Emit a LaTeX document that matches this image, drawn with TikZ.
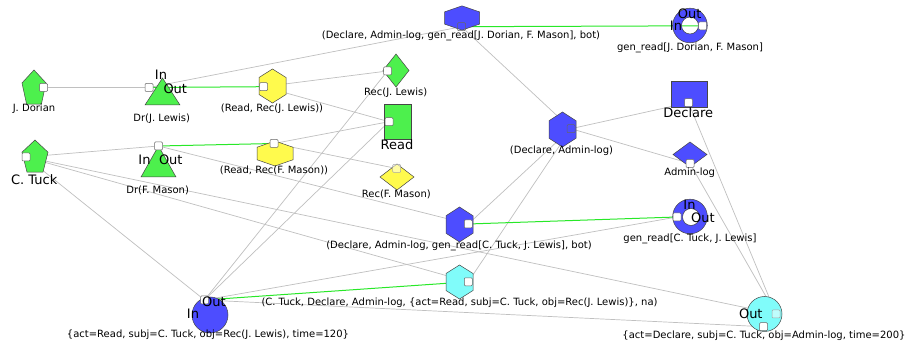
\documentclass[tikz,border=0pt]{standalone}
\usepackage{fontspec}
\setmainfont{DejaVu Sans}
\definecolor{gfill}{RGB}{77,240,77}
\definecolor{yfill}{RGB}{255,250,77}
\definecolor{bfill}{RGB}{77,77,255}
\definecolor{cfill}{RGB}{128,252,250}
\definecolor{egreen}{RGB}{40,232,40}
\definecolor{egray}{RGB}{192,192,192}
\definecolor{bord}{RGB}{70,70,70}
\pgfdeclarelayer{bglayer}
\pgfdeclarelayer{edgelayer}
\pgfsetlayers{bglayer,edgelayer,main}
\tikzset{
  shp/.style={draw=bord, line width=0.5pt},
  port/.style={draw=black!60, fill=white, minimum size=8pt, inner sep=0pt, rounded corners=1pt, line width=0.5pt},
  hport/.style={draw=black!60, fill=none, minimum size=8pt, inner sep=0pt, rounded corners=1pt, line width=0.5pt},
  fport/.style={draw=black!35, fill=white, fill opacity=0.5, minimum size=8pt, inner sep=0pt, rounded corners=1pt, line width=0.5pt},
  gedge/.style={draw=egray, line width=0.7pt},
  grn/.style={draw=egreen, line width=1pt},
  lab/.style={font=\fontsize{10}{12}\selectfont, inner sep=0pt},
  big/.style={font=\fontsize{13}{15}\selectfont, inner sep=0pt},
}
\begin{document}
\begin{tikzpicture}[x=1pt,y=-1pt]
\useasboundingbox (0,0) rectangle (914,347);
\begin{pgfonlayer}{bglayer}
\fill[white] (0,0) rectangle (914,347);
\end{pgfonlayer}

% ---------- shapes ----------
% pentagons
\filldraw[shp, fill=gfill, shift={(34,88.8)}, xscale=12.62, yscale=18.8]
  (0,-1) -- (0.951,-0.309) -- (0.588,0.809) -- (-0.588,0.809) -- (-0.951,-0.309) -- cycle;
\filldraw[shp, fill=gfill, shift={(35,157.7)}, xscale=13.67, yscale=17.69]
  (0,-1) -- (0.951,-0.309) -- (0.588,0.809) -- (-0.588,0.809) -- (-0.951,-0.309) -- cycle;
% triangles
\filldraw[shp, fill=gfill] (145,105) -- (180,105) -- (162.5,78) -- cycle;
\filldraw[shp, fill=gfill] (141,177) -- (176,177) -- (158.5,146) -- cycle;
% hexagons
\filldraw[shp, fill=yfill, shift={(272.5,86)}, xscale=13.5, yscale=17]
  (0,-1) -- (1,-0.5) -- (1,0.5) -- (0,1) -- (-1,0.5) -- (-1,-0.5) -- cycle;
\filldraw[shp, fill=yfill, shift={(275,153.5)}, xscale=18, yscale=12.5]
  (0,-1) -- (1,-0.5) -- (1,0.5) -- (0,1) -- (-1,0.5) -- (-1,-0.5) -- cycle;
\filldraw[shp, fill=bfill, shift={(462,18)}, xscale=17.5, yscale=12.15]
  (0,-1) -- (1,-0.5) -- (1,0.5) -- (0,1) -- (-1,0.5) -- (-1,-0.5) -- cycle;
\filldraw[shp, fill=bfill, shift={(562.5,129.5)}, xscale=13.5, yscale=17.5]
  (0,-1) -- (1,-0.5) -- (1,0.5) -- (0,1) -- (-1,0.5) -- (-1,-0.5) -- cycle;
\filldraw[shp, fill=bfill, shift={(459.5,224.5)}, xscale=13.5, yscale=17.5]
  (0,-1) -- (1,-0.5) -- (1,0.5) -- (0,1) -- (-1,0.5) -- (-1,-0.5) -- cycle;
\filldraw[shp, fill=cfill, shift={(459.5,282)}, xscale=13.5, yscale=17]
  (0,-1) -- (1,-0.5) -- (1,0.5) -- (0,1) -- (-1,0.5) -- (-1,-0.5) -- cycle;
% diamonds
\filldraw[shp, fill=gfill, shift={(396,70.5)}, xscale=13, yscale=16.5]
  (0,-1) -- (1,0) -- (0,1) -- (-1,0) -- cycle;
\filldraw[shp, fill=yfill, shift={(397,177)}, xscale=17, yscale=13]
  (0,-1) -- (1,0) -- (0,1) -- (-1,0) -- cycle;
\filldraw[shp, fill=bfill, shift={(690,154.5)}, xscale=17, yscale=12.5]
  (0,-1) -- (1,0) -- (0,1) -- (-1,0) -- cycle;
% rectangles
\filldraw[shp, fill=gfill] (384,104) rectangle (411,139);
\filldraw[shp, fill=bfill] (671,81) rectangle (707,107);
% circles and rings
\filldraw[shp, fill=bfill] (210,315) circle[radius=18pt];
\filldraw[shp, fill=cfill] (764.5,314) circle[radius=17.5pt];
\filldraw[shp, fill=bfill, even odd rule] (690,25.5) circle[radius=17.3pt] (690,25.5) circle[radius=8.5pt];
\filldraw[shp, fill=bfill, even odd rule] (690,216.5) circle[radius=17.3pt] (691,217) circle[radius=8.5pt];

% ---------- ports ----------
\node[port] (pjd) at (43.5,87.5) {};
\node[port] (pdrjl) at (149,87.5) {};
\node[port] (prrjl) at (263.5,86.7) {};
\node[port] (precjl) at (387.5,71) {};
\node[port] (pread) at (389,121.7) {};
\node[port] (pct) at (26,157) {};
\node[port] (pdrfm) at (158.5,146) {};
\node[port] (prrfm) at (274,143.5) {};
\node[fport] (precfm) at (396.7,168.5) {};
\node[hport] (ptop) at (461.5,26.7) {};
\node[port] (pring1) at (702.7,25.8) {};
\node[hport] (pdal) at (571,128.7) {};
\node[port] (pdecl) at (688.5,102.7) {};
\node[port] (padm) at (690,163.5) {};
\node[port] (pgen) at (468.3,224) {};
\node[port] (pring2) at (677,217) {};
\node[port] (pcyh) at (468.3,281.8) {};
\node[port] (pblue) at (204.5,300) {};
\node[fport] (pcycr) at (776,314) {};
\node[port] (pcycb) at (763.5,326.7) {};

% ---------- edges ----------
\begin{pgfonlayer}{edgelayer}
\draw[gedge] (pjd) -- (pdrjl);
\draw[gedge] (pdrjl) -- (ptop);
\draw[gedge] (prrjl) -- (precjl);
\draw[gedge] (prrjl) -- (pread);
\draw[gedge] (prrfm) -- (pread);
\draw[gedge] (prrfm) -- (precfm);
\draw[gedge] (pct) -- (pdrfm);
\draw[gedge] (pct) -- (pblue);
\draw[gedge] (pct) -- (pcycr);
\draw[gedge] (pct) -- (pcyh);
\draw[gedge] (pdrfm) -- (pgen);
\draw[gedge] (precjl) -- (pblue);
\draw[gedge] (pread) -- (pblue);
\draw[gedge] (ptop) -- (pdal);
\draw[gedge] (pdal) -- (pdecl);
\draw[gedge] (pdal) -- (padm);
\draw[gedge] (pgen) -- (pdal);
\draw[gedge] (pcyh) -- (pdal);
\draw[gedge] (pblue) -- (pring2);
\draw[gedge] (pblue) -- (pcycb);
\draw[gedge] (pdecl) -- (pcycr);
\draw[gedge] (padm) -- (pcycr);
\draw[grn] (pdrjl) -- (prrjl);
\draw[grn] (pdrfm) -- (prrfm);
\draw[grn] (ptop) -- (pring1);
\draw[grn] (pgen) -- (pring2);
\draw[grn] (pblue) -- (pcyh);
\end{pgfonlayer}

% ---------- labels ----------
\node[lab] (ljd) at (34,109) {J. Dorian};
\node[lab] (ldrjl) at (161.7,118.3) {Dr(J. Lewis)};
\node[lab] (lrrjl) at (272,108.3) {(Read, Rec(J. Lewis))};
\node[lab] (lrecjl) at (395.7,92.3) {Rec(J. Lewis)};
\node[lab] (ldrfm) at (157.7,190.7) {Dr(F. Mason)};
\node[lab] (lrrfm) at (274,170) {(Read, Rec(F. Mason))};
\node[lab] (lrecfm) at (396.3,194) {Rec(F. Mason)};
\node[lab] (ltop) at (461,36) {(Declare, Admin-log, gen\_read[J. Dorian, F. Mason], bot)};
\node[lab] (lring1) at (690,48) {gen\_read[J. Dorian, F. Mason]};
\node[lab] (ldal) at (561.5,151) {(Declare, Admin-log)};
\node[lab] (ladm) at (689.7,172.3) {Admin-log};
\node[lab] (lgen) at (459,246) {(Declare, Admin-log, gen\_read[C. Tuck, J. Lewis], bot)};
\node[lab] (lring2) at (690,239) {gen\_read[C. Tuck, J. Lewis]};
\node[lab] (lcyh) at (459.5,303) {(C. Tuck, Declare, Admin-log, \{act=Read, subj=C. Tuck, obj=Rec(J. Lewis)\}, na)};
\node[lab] (lblue) at (208,335) {\{act=Read, subj=C. Tuck, obj=Rec(J. Lewis), time=120\}};
\node[lab] (lcyc) at (764,336) {\{act=Declare, subj=C. Tuck, obj=Admin-log, time=200\}};
\node[big] (lct) at (34.2,180) {C. Tuck};
\node[big] (lread) at (397,145) {Read};
\node[big] (ldecl) at (688.3,112.7) {Declare};
\node[big] (in1) at (161,75) {In};
\node[big] (out1) at (175.3,88.3) {Out};
\node[big] (in2) at (144.5,159.7) {In};
\node[big] (out2) at (170.8,159.7) {Out};
\node[big] (out3) at (689.7,13.3) {Out};
\node[big] (in3) at (676,26) {In};
\node[big] (in4) at (689.5,204.5) {In};
\node[big] (out4) at (703,217.5) {Out};
\node[big] (out5) at (214,302) {Out};
\node[big] (in5) at (193,314) {In};
\node[big] (out6) at (750.8,314) {Out};
\end{tikzpicture}
\end{document}
